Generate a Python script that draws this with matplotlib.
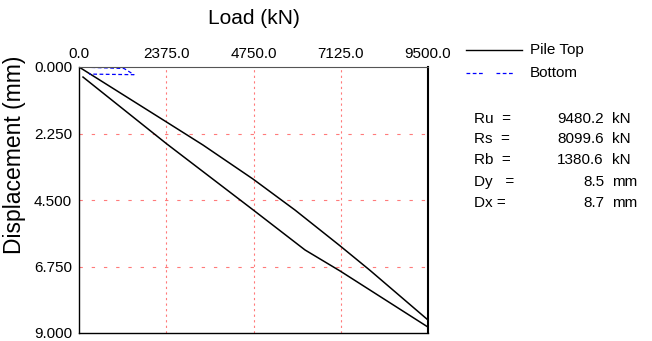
import matplotlib
matplotlib.use("Agg")
import matplotlib.pyplot as plt
from matplotlib.lines import Line2D

plt.rcParams['font.family'] = ['Liberation Sans', 'DejaVu Sans']

# Data
x_ticks = [0.0, 2375.0, 4750.0, 7125.0, 9500.0]
y_ticks = [0.000, 2.250, 4.500, 6.750, 9.000]

# Pile top: loading branch then return branch
top_load = [0, 2368, 3375, 4736, 5880, 7105, 7921, 9500,
            9500, 7105, 6152, 4745, 2387, 109]
top_disp = [0, 1.85, 2.64, 3.79, 4.84, 6.05, 6.88, 8.56,
            8.80, 6.90, 6.19, 4.84, 2.60, 0.34]

bot_load = [0, 1225, 1497, 272]
bot_disp = [0, 0.05, 0.26, 0.24]

stats_names = ["Ru  =", "Rs  =", "Rb  =", "Dy   =", "Dx ="]
stats_vals = ["9480.2", "8099.6", "1380.6", "8.5", "8.7"]
stats_units = ["kN", "kN", "kN", "mm", "mm"]

W, H = 652, 341
fig = plt.figure(figsize=(W / 100, H / 100), dpi=100)
ax = fig.add_axes([79 / W, 1 - 333 / H, (428 - 79) / W, (333 - 67) / H])

ax.plot(top_load, top_disp, color='black', lw=1.1)
ax.plot(bot_load, bot_disp, color='blue', lw=0.9, linestyle=(0, (3, 2)))

ax.set_xlim(0, 9500)
ax.set_ylim(9, 0)
ax.xaxis.tick_top()
ax.set_xticks(x_ticks)
ax.set_yticks(y_ticks)
ax.set_xticklabels([f"{v:.1f}" for v in x_ticks], fontsize=11)
ax.set_yticklabels([f"{v:.3f}" for v in y_ticks], fontsize=11)
ax.tick_params(axis='x', length=0, pad=4)
ax.tick_params(axis='y', length=0, pad=5)

for xv in x_ticks[1:-1]:
    ax.axvline(xv, color='#ff7a7a', lw=0.8, linestyle=(0, (2, 3)), zorder=0)
for yv in y_ticks[1:-1]:
    ax.axhline(yv, color='#ff7a7a', lw=0.8, linestyle=(0, (3, 8)), zorder=0)

for s in ['left', 'bottom']:
    ax.spines[s].set_linewidth(1.0)
ax.spines['top'].set_linewidth(0.8)
ax.spines['top'].set_color('#555555')
ax.spines['right'].set_linewidth(1.5)

fig.text(254 / W, 1 - 18 / H, "Load (kN)", fontsize=15, ha='center', va='center')
fig.text(15 / W, 1 - 155 / H, "Displacement (mm)", rotation=90, fontsize=16.5,
         ha='center', va='center')

# Legend
fig.add_artist(Line2D([466 / W, 522 / W], [1 - 50 / H, 1 - 50 / H], color='black', lw=1.0))
fig.add_artist(Line2D([466 / W, 514 / W], [1 - 73 / H, 1 - 73 / H], color='blue', lw=0.9,
                      linestyle=(0, (3, 2, 3, 2, 3, 11))))
fig.text(530 / W, 1 - 50 / H, "Pile Top", fontsize=11, ha='left', va='center')
fig.text(530 / W, 1 - 73 / H, "Bottom", fontsize=11, ha='left', va='center')

rows_y = [119, 139, 160, 182, 203]
for ny, n, v, u in zip(rows_y, stats_names, stats_vals, stats_units):
    yy = 1 - ny / H
    fig.text(474 / W, yy, n, fontsize=11, ha='left', va='center')
    fig.text(604 / W, yy, v, fontsize=11, ha='right', va='center')
    fig.text(612 / W, yy, u, fontsize=11, ha='left', va='center')

fig.savefig("out.png", dpi=100)
